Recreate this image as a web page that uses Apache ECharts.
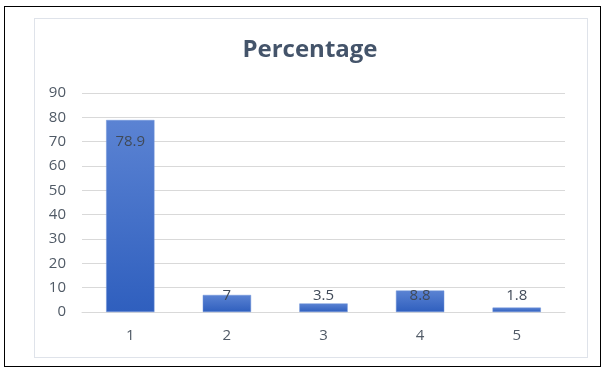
<!DOCTYPE html>
<html>
<head>
<meta charset="utf-8">
<script src="https://cdn.jsdelivr.net/npm/echarts@6/dist/echarts.min.js"></script>
<style>
  html, body { margin: 0; padding: 0; background: #fff; }
  #wrap { position: relative; width: 610px; height: 376px; }
  #frame { position: absolute; left: 4px; top: 6px; width: 597px; height: 361px; border: 1.5px solid #000; box-sizing: border-box; }
  #inner { position: absolute; left: 34px; top: 18px; width: 554px; height: 340px; border: 1px solid #dfe3ea; box-sizing: border-box; }
  #main { position: absolute; left: 0; top: 0; width: 610px; height: 376px; }
</style>
</head>
<body>
<div id="wrap">
  <div id="frame"></div>
  <div id="inner"></div>
  <div id="main"></div>
</div>
<script>
// chart data
var categories = ['1', '2', '3', '4', '5'];
var percentages = [78.9, 7, 3.5, 8.8, 1.8];

var chart = echarts.init(document.getElementById('main'), null, { renderer: 'canvas' });

var barColor = new echarts.graphic.LinearGradient(0, 0, 0, 1, [
  { offset: 0, color: '#5b83d3' },
  { offset: 1, color: '#2f5fbe' }
]);

// tall bars get the label inside the top, short ones sit just above the base
var seriesData = percentages.map(function (v) {
  var tall = v >= 20;
  return {
    value: v,
    label: {
      position: tall ? 'insideTop' : 'insideBottom',
      distance: tall ? 14 : 9
    }
  };
});

chart.setOption({
  animation: false,
  title: {
    text: 'Percentage',
    left: 305,
    top: 33,
    textAlign: 'center',
    textStyle: {
      fontFamily: 'Open Sans',
      fontWeight: 'bold',
      fontSize: 24,
      color: '#44546a'
    }
  },
  grid: { left: 82, right: 45, top: 93, bottom: 64 },
  xAxis: {
    type: 'category',
    data: categories,
    axisLine: { show: true, lineStyle: { color: '#d9d9d9', width: 1 } },
    axisTick: { show: false },
    axisLabel: { color: '#505a66', fontSize: 15, fontFamily: 'Open Sans', margin: 16 }
  },
  yAxis: {
    type: 'value',
    min: 0,
    max: 90,
    interval: 10,
    axisLine: { show: false },
    axisTick: { show: false },
    splitLine: { lineStyle: { color: '#d9d9d9', width: 1 } },
    axisLabel: { color: '#505a66', fontSize: 15, fontFamily: 'Open Sans', margin: 16 }
  },
  series: [{
    type: 'bar',
    data: seriesData,
    barWidth: '50%',
    itemStyle: { color: barColor, borderColor: '#6e93d8', borderWidth: 0.5 },
    label: {
      show: true,
      color: '#404a58',
      fontSize: 15,
      fontFamily: 'Open Sans'
    }
  }]
});
</script>
</body>
</html>
